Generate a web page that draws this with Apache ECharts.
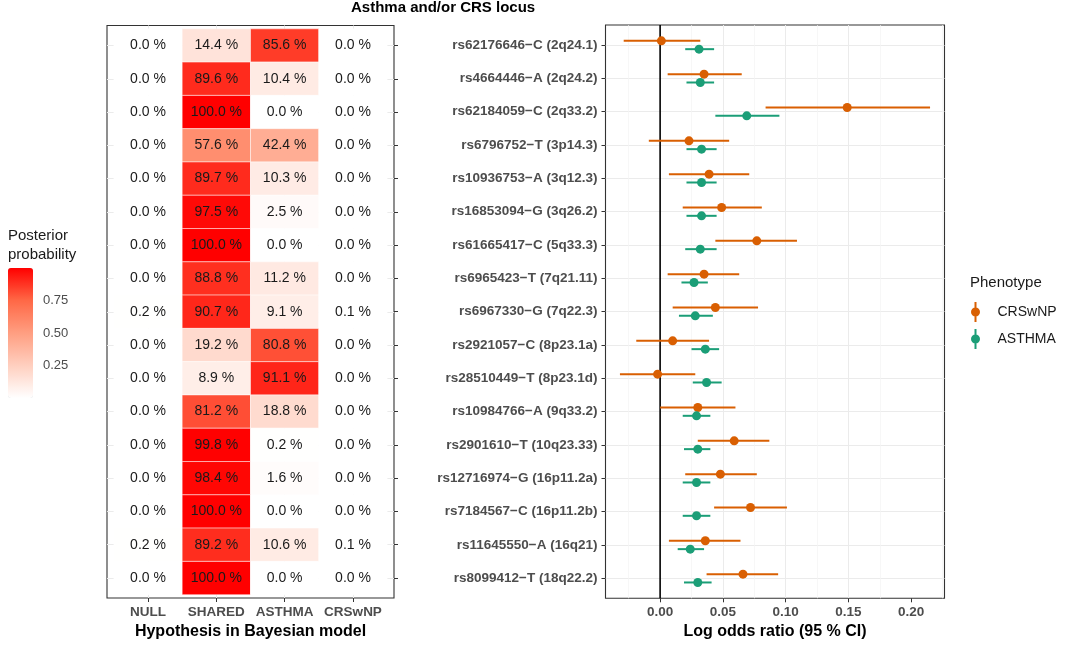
<!DOCTYPE html>
<html><head><meta charset="utf-8">
<script src="https://cdn.jsdelivr.net/npm/echarts@6/dist/echarts.min.js"></script>
<style>html,body{margin:0;padding:0;background:#fff}#c{width:1080px;height:648px}</style>
</head><body><div id="c"></div>
<script>
// ---------- data ----------
const loci = ['rs62176646\u2212C (2q24.1)','rs4664446\u2212A (2q24.2)','rs62184059\u2212C (2q33.2)','rs6796752\u2212T (3p14.3)','rs10936753\u2212A (3q12.3)','rs16853094\u2212G (3q26.2)','rs61665417\u2212C (5q33.3)','rs6965423\u2212T (7q21.11)','rs6967330\u2212G (7q22.3)','rs2921057\u2212C (8p23.1a)','rs28510449\u2212T (8p23.1d)','rs10984766\u2212A (9q33.2)','rs2901610\u2212T (10q23.33)','rs12716974\u2212G (16p11.2a)','rs7184567\u2212C (16p11.2b)','rs11645550\u2212A (16q21)','rs8099412\u2212T (18q22.2)'];
const hypotheses = ['NULL','SHARED','ASTHMA','CRSwNP'];
const probNull   = [0.0,0.0,0.0,0.0,0.0,0.0,0.0,0.0,0.2,0.0,0.0,0.0,0.0,0.0,0.0,0.2,0.0];
const probShared = [14.4,89.6,100.0,57.6,89.7,97.5,100.0,88.8,90.7,19.2,8.9,81.2,99.8,98.4,100.0,89.2,100.0];
const probAsthma = [85.6,10.4,0.0,42.4,10.3,2.5,0.0,11.2,9.1,80.8,91.1,18.8,0.2,1.6,0.0,10.6,0.0];
const probCrswnp = [0.0,0.0,0.0,0.0,0.0,0.0,0.0,0.0,0.1,0.0,0.0,0.0,0.0,0.0,0.0,0.1,0.0];

const crsEst  = [0.001,0.035,0.149,0.023,0.039,0.049,0.077,0.035,0.044,0.010,-0.002,0.030,0.059,0.048,0.072,0.036,0.066];
const crsLow  = [-0.029,0.006,0.084,-0.009,0.007,0.018,0.044,0.006,0.010,-0.019,-0.032,0.000,0.030,0.020,0.043,0.007,0.037];
const crsHigh = [0.032,0.065,0.215,0.055,0.071,0.081,0.109,0.063,0.078,0.039,0.028,0.060,0.087,0.077,0.101,0.064,0.094];
const asthEst  = [0.031,0.032,0.069,0.033,0.033,0.033,0.032,0.027,0.028,0.036,0.037,0.029,0.030,0.029,0.029,0.024,0.030];
const asthLow  = [0.020,0.021,0.044,0.021,0.021,0.021,0.020,0.017,0.015,0.025,0.026,0.018,0.019,0.018,0.018,0.014,0.019];
const asthHigh = [0.043,0.043,0.095,0.045,0.045,0.045,0.045,0.038,0.042,0.047,0.049,0.040,0.040,0.040,0.040,0.035,0.041];

const xTicks = [0, 0.05, 0.10, 0.15, 0.20];
const legendTicks = [0.25, 0.50, 0.75];

// ---------- layout / style ----------
const FONT = '"Liberation Sans", Arial, Helvetica, sans-serif';
const GRAY = '#4d4d4d';
const ORANGE = '#D95F02', TEAL = '#1B9E77';
const HM = {left:107, top:25.5, width:287, height:572.5};
const FP = {left:605.5, top:25, width:339, height:573.3};
const nR = loci.length, nC = hypotheses.length;
const ruH = HM.height/(nR+0.2), cuH = HM.width/(nC+0.2);
const ruF = FP.height/(nR+0.2);
const xMin = -0.0435, xMax = 0.2265;
const ppu = FP.width/(xMax-xMin);
const wideMin = -0.05, wideMax = 0.25;
const dodge = 0.125;
const CB = {left:8, top:268, width:25, height:130};

const probs = [probNull, probShared, probAsthma, probCrswnp];
const heatCells = [];
loci.forEach((_, i) => hypotheses.forEach((_, j) => heatCells.push([j+1, i+1, probs[j][i]])));

const labelStyle = {fontFamily:FONT, fontWeight:'bold', fontSize:13.5, color:GRAY};
const nameStyle = {fontFamily:FONT, fontWeight:'bold', fontSize:16, color:'#000'};
const tickStyle = {show:true, length:4, lineStyle:{color:'#333', width:1}};
const noLine = {show:false, onZero:false};
const hidden = (g, extra) => Object.assign({gridIndex:g, type:'value', show:false, axisLine:{show:false, onZero:false}}, extra||{});

const chart = echarts.init(document.getElementById('c'), null, {renderer:'canvas'});
chart.setOption({
  animation:false,
  backgroundColor:'#fff',
  textStyle:{fontFamily:FONT},
  title:[
    {text:'Asthma and/or CRS locus', left:351, top:0, padding:0, textStyle:{fontFamily:FONT, fontSize:15, fontWeight:'bold', color:'#000'}},
    {text:'Phenotype', left:970, top:275, padding:0, textStyle:{fontFamily:FONT, fontSize:15, fontWeight:'normal', color:'#1a1a1a'}},
    {text:'Posterior\nprobability', left:8, top:226, padding:0, textStyle:{fontFamily:FONT, fontSize:15, fontWeight:'normal', lineHeight:19, color:'#1a1a1a'}}
  ],
  legend:{orient:'vertical', left:966, top:297, itemWidth:34, itemHeight:20, itemGap:7, selectedMode:false,
    icon:'path://M9,0L11,0L11,20L9,20Z M10,5.5A4.5,4.5,0,1,1,10,14.5A4.5,4.5,0,1,1,10,5.5Z',
    textStyle:{fontFamily:FONT, fontSize:14, color:'#1a1a1a'}, data:['CRSwNP','ASTHMA']},
  visualMap:{type:'continuous', min:0, max:100, seriesIndex:0, dimension:2, calculable:false, text:null,
    orient:'vertical', left:CB.left, top:CB.top, itemWidth:CB.width, itemHeight:CB.height, padding:0,
    inRange:{color:['#ffffff','#ffcfbf','#ff9e81','#ff6846','#ff0000']}},
  graphic: legendTicks.map(v => ({type:'text', x:CB.left+CB.width+10, y:CB.top+(1-v)*CB.height,
      style:{text:v.toFixed(2), font:'13px '+FONT, fill:GRAY, align:'left', verticalAlign:'middle'}}))
    .concat(legendTicks.map(v => ({type:'line', shape:{x1:CB.left, y1:CB.top+(1-v)*CB.height, x2:CB.left+5, y2:CB.top+(1-v)*CB.height}, style:{stroke:'#fff', lineWidth:1}})))
    .concat(legendTicks.map(v => ({type:'line', shape:{x1:CB.left+CB.width-5, y1:CB.top+(1-v)*CB.height, x2:CB.left+CB.width, y2:CB.top+(1-v)*CB.height}, style:{stroke:'#fff', lineWidth:1}}))),
  grid:[
    {left:HM.left, top:HM.top, width:HM.width, height:HM.height, show:true, borderColor:'#333', borderWidth:1.1, backgroundColor:'transparent', outerBoundsMode:'none'},
    {left:HM.left, top:HM.top+0.6*ruH, width:HM.width, height:(nR-1)*ruH, outerBoundsMode:'none'},
    {left:HM.left+0.6*cuH, top:HM.top, width:(nC-1)*cuH, height:HM.height, outerBoundsMode:'none'},
    {left:FP.left, top:FP.top, width:FP.width, height:FP.height, show:true, borderColor:'#333', borderWidth:1.1, backgroundColor:'transparent', outerBoundsMode:'none'},
    {left:FP.left+(wideMin-xMin)*ppu, top:FP.top, width:(wideMax-wideMin)*ppu, height:FP.height, outerBoundsMode:'none'},
    {left:FP.left, top:FP.top+0.6*ruF, width:FP.width, height:(nR-1)*ruF, outerBoundsMode:'none'}
  ],
  xAxis:[
    hidden(0, {min:0.4, max:nC+0.6}),
    hidden(1, {min:0, max:1}),
    {gridIndex:2, type:'category', data:hypotheses, boundaryGap:false, position:'bottom',
      axisLine:noLine, axisTick:Object.assign({interval:0}, tickStyle),
      axisLabel:Object.assign({interval:0, margin:7}, labelStyle),
      splitLine:{show:true, interval:0, lineStyle:{color:'#ebebeb', width:1}},
      name:'Hypothesis in Bayesian model', nameLocation:'middle', nameGap:25, nameTextStyle:nameStyle},
    {gridIndex:3, type:'value', min:xMin, max:xMax, axisLine:noLine, axisTick:{show:false}, axisLabel:{show:false}, splitLine:{show:false},
      name:'Log odds ratio (95 % CI)', nameLocation:'middle', nameGap:25, nameTextStyle:nameStyle},
    {gridIndex:4, type:'value', min:wideMin, max:wideMax, interval:0.05,
      axisLine:noLine, axisTick:Object.assign({customValues:xTicks}, tickStyle),
      axisLabel:Object.assign({customValues:xTicks, margin:7, formatter:v=>v.toFixed(2)}, labelStyle),
      splitLine:{show:true, showMinLine:false, showMaxLine:false, lineStyle:{color:'#ebebeb', width:1}},
      minorTick:{show:false, splitNumber:2}, minorSplitLine:{show:true, lineStyle:{color:'#f4f4f4', width:0.7}}},
    hidden(5, {min:0, max:1})
  ],
  yAxis:[
    hidden(0, {min:0.4, max:nR+0.6, inverse:true}),
    {gridIndex:1, type:'category', data:loci, boundaryGap:false, inverse:true, position:'right',
      axisLine:noLine, axisTick:Object.assign({interval:0}, tickStyle), axisLabel:{show:false},
      splitLine:{show:true, interval:0, lineStyle:{color:'#ebebeb', width:1}}},
    hidden(2, {min:0, max:1}),
    hidden(3, {min:0.4, max:nR+0.6, inverse:true}),
    hidden(4, {min:0, max:1}),
    {gridIndex:5, type:'category', data:loci, boundaryGap:false, inverse:true, position:'left',
      axisLine:noLine, axisTick:Object.assign({interval:0}, tickStyle),
      axisLabel:Object.assign({interval:0, margin:8}, labelStyle),
      splitLine:{show:true, interval:0, lineStyle:{color:'#ebebeb', width:1}}}
  ],
  series:[
    {type:'custom', name:'heat', xAxisIndex:0, yAxisIndex:0, data:heatCells, encode:{x:0, y:1}, z:3,
      renderItem:(params, api) => {
        const c = api.value(0), r = api.value(1), v = api.value(2);
        const p0 = api.coord([c-0.5, r-0.5]), p1 = api.coord([c+0.5, r+0.5]);
        const x = Math.min(p0[0],p1[0]), y = Math.min(p0[1],p1[1]);
        const w = Math.abs(p1[0]-p0[0]), h = Math.abs(p1[1]-p0[1]);
        return {type:'group', children:[
          {type:'rect', shape:{x:x, y:y, width:w, height:h}, style:{fill:api.visual('color'), stroke:'rgba(255,255,255,0.6)', lineWidth:0.8}},
          {type:'text', style:{x:x+w/2, y:y+h/2, text:v.toFixed(1)+' %', align:'center', verticalAlign:'middle', fill:'#1a1a1a', font:'14px '+FONT}}
        ]};
      }},
    {type:'line', name:'zero', xAxisIndex:3, yAxisIndex:3, data:[[0,0.4],[0,nR+0.6]], symbol:'none', silent:true, z:2,
      lineStyle:{color:'#000', width:1.6}},
    {type:'custom', name:'crsCI', xAxisIndex:3, yAxisIndex:3, z:3,
      data:loci.map((_, i) => [crsLow[i], crsHigh[i], i+1-dodge]), encode:{x:[0,1], y:2},
      renderItem:(params, api) => {
        const a = api.coord([api.value(0), api.value(2)]), b = api.coord([api.value(1), api.value(2)]);
        return {type:'line', shape:{x1:a[0], y1:a[1], x2:b[0], y2:b[1]}, style:{stroke:ORANGE, lineWidth:2}};
      }},
    {type:'custom', name:'asthCI', xAxisIndex:3, yAxisIndex:3, z:3,
      data:loci.map((_, i) => [asthLow[i], asthHigh[i], i+1+dodge]), encode:{x:[0,1], y:2},
      renderItem:(params, api) => {
        const a = api.coord([api.value(0), api.value(2)]), b = api.coord([api.value(1), api.value(2)]);
        return {type:'line', shape:{x1:a[0], y1:a[1], x2:b[0], y2:b[1]}, style:{stroke:TEAL, lineWidth:2}};
      }},
    {type:'scatter', name:'CRSwNP', xAxisIndex:3, yAxisIndex:3, z:4, symbolSize:9,
      itemStyle:{color:ORANGE, opacity:1}, data:loci.map((_, i) => [crsEst[i], i+1-dodge])},
    {type:'scatter', name:'ASTHMA', xAxisIndex:3, yAxisIndex:3, z:4, symbolSize:9,
      itemStyle:{color:TEAL, opacity:1}, data:loci.map((_, i) => [asthEst[i], i+1+dodge])}
  ]
});
</script></body></html>
